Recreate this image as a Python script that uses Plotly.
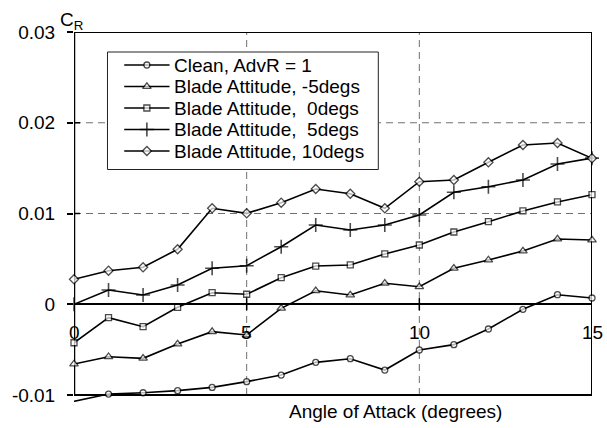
import plotly.graph_objects as go

# ---------------- data ----------------
aoa = list(range(16))
clean = [-0.0107, -0.0099, -0.00975, -0.00952, -0.00916, -0.00853, -0.0078, -0.0064,
         -0.0060, -0.00725, -0.00504, -0.00445, -0.00273, -0.00056, 0.00105, 0.00069]
blade_m5 = [-0.00658, -0.00578, -0.00596, -0.00438, -0.00302, -0.00339, -0.00045, 0.00149,
            0.00102, 0.00231, 0.00193, 0.00396, 0.00488, 0.00587, 0.00719, 0.00708]
blade_0 = [-0.00424, -0.00148, -0.00247, -0.00034, 0.00127, 0.0011, 0.00293, 0.00421,
           0.00433, 0.00554, 0.00653, 0.00796, 0.0091, 0.01028, 0.01127, 0.01207]
blade_5 = [0.0, 0.00157, 0.00102, 0.00212, 0.00396, 0.00425, 0.00634, 0.00873,
           0.00818, 0.00873, 0.00983, 0.01234, 0.01295, 0.01369, 0.01545, 0.0161]
blade_10 = [0.00275, 0.0037, 0.00407, 0.00606, 0.01057, 0.01002, 0.01119, 0.0127,
            0.01218, 0.01057, 0.0135, 0.01369, 0.01564, 0.01755, 0.01777, 0.01608]

series_names = ["Clean, AdvR = 1", "Blade Attitude, -5degs", "Blade Attitude,\u00a0 0degs",
                "Blade Attitude,\u00a0 5degs", "Blade Attitude, 10degs"]
x_ticks = [0, 5, 10, 15]
x_ticktext = ["0", "5", "10", "15"]
y_ticks = [-0.01, 0, 0.01, 0.02, 0.03]
y_ticktext = ["-0.01", "0", "0.01", "0.02", "0.03"]
x_grid = [5, 10]
y_grid = [0.01, 0.02]
x_title = "Angle of Attack (degrees)"
y_title = "C<sub>R</sub>"

# ---------------- layout geometry ----------------
W, H = 607, 428
L, R, T, B = 66, 592, 32, 402          # plot area in page pixels
Y_LO, Y_HI = -0.01, 0.03                 # frame range
FRAME_PX = 363                            # px between Y_HI and Y_LO
y_min = Y_HI - (B - T) * (Y_HI - Y_LO) / FRAME_PX
FONT = "Liberation Sans, Arial, sans-serif"

def px(xp):
    return (xp - L) / (R - L)

def py(yp):
    return (B - yp) / (B - T)

series = [clean, blade_m5, blade_0, blade_5, blade_10]
styles = [
    dict(symbol="circle", size=6, lw=1.3),
    dict(symbol="triangle-up", size=7.5, lw=1.3),
    dict(symbol="square", size=6, lw=1.3),
    dict(symbol="cross-thin", size=10, lw=1.6),
    dict(symbol="diamond", size=7, lw=1.3),
]

fig = go.Figure()

for vals, st in zip(series, styles):
    sizes = [st["size"] if v >= Y_LO else 0 for v in vals]
    fig.add_trace(go.Scatter(
        x=aoa, y=vals, mode="lines+markers", showlegend=False, cliponaxis=False,
        line=dict(color="black", width=1.6),
        marker=dict(symbol=st["symbol"], size=sizes, color="white",
                    line=dict(color="black", width=st["lw"])),
        hoverinfo="skip",
    ))

# legend samples (pixel-unit overlay axes)
row_y = [65, 86.5, 108, 129.5, 151]
for name, st, ry in zip(series_names, styles, row_y):
    fig.add_trace(go.Scatter(
        x=[117, 140, 163], y=[ry, ry, ry], xaxis="x2", yaxis="y2",
        mode="lines+markers", showlegend=False, cliponaxis=False,
        line=dict(color="black", width=1.6),
        marker=dict(symbol=st["symbol"], size=[0, st["size"], 0], color="white",
                    line=dict(color="black", width=st["lw"])),
        hoverinfo="skip",
    ))

shapes = []
grid_style = dict(color="#707070", width=1, dash="7px,5px")
for gx in x_grid:
    shapes.append(dict(type="line", xref="x", yref="y", x0=gx, x1=gx, y0=Y_LO, y1=Y_HI,
                       line=grid_style, layer="below"))
for gy in y_grid:
    shapes.append(dict(type="line", xref="x", yref="y", x0=0, x1=15, y0=gy, y1=gy,
                       line=grid_style, layer="below"))
# legend box
shapes.append(dict(type="rect", xref="x2", yref="y2", x0=100, x1=375, y0=52, y1=169.5,
                   fillcolor="white", line=dict(color="#222222", width=1), layer="below"))
# frame
shapes += [
    dict(type="line", xref="x", yref="y", x0=0, x1=15, y0=Y_HI, y1=Y_HI,
         line=dict(color="black", width=2), layer="below"),
    dict(type="line", xref="x", yref="y", x0=0, x1=15, y0=Y_LO, y1=Y_LO,
         line=dict(color="black", width=2), layer="below"),
    dict(type="line", xref="x", yref="y", x0=15, x1=15, y0=Y_LO, y1=Y_HI,
         line=dict(color="black", width=2), layer="below"),
    dict(type="line", xref="x", yref="y", x0=0, x1=0, y0=Y_LO, y1=Y_HI,
         line=dict(color="black", width=2.5), layer="below"),
]
# tick marks crossing axes
for v in y_ticks:
    shapes.append(dict(type="line", xref="x", yref="y", xsizemode="pixel", xanchor=0,
                       x0=-6, x1=6, y0=v, y1=v, line=dict(color="black", width=1.5), layer="below"))
for v in x_ticks:
    shapes.append(dict(type="line", xref="x", yref="y", ysizemode="pixel", yanchor=0,
                       y0=-6, y1=6, x0=v, x1=v, line=dict(color="black", width=1.5), layer="below"))

annotations = []
for v, t in zip(x_ticks, x_ticktext):
    annotations.append(dict(x=v, y=0, xref="x", yref="y", text=t, showarrow=False,
                            xanchor="center", yanchor="middle", yshift=-28,
                            font=dict(size=19, color="black", family=FONT)))
for name, ry in zip(series_names, row_y):
    annotations.append(dict(x=px(166), y=py(ry), xref="paper", yref="paper", text=name,
                            showarrow=False, xanchor="left", yanchor="middle",
                            font=dict(size=19, color="black", family=FONT)))
annotations.append(dict(x=px(63), y=py(21), xref="paper", yref="paper", text=y_title,
                        showarrow=False, xanchor="center", yanchor="middle",
                        font=dict(size=19, color="black", family=FONT)))
annotations.append(dict(x=px(392), y=py(411), xref="paper", yref="paper", text=x_title,
                        showarrow=False, xanchor="center", yanchor="middle",
                        font=dict(size=19, color="black", family=FONT)))

fig.update_layout(
    width=W, height=H,
    margin=dict(l=L, r=W - R, t=T, b=H - B, pad=0),
    paper_bgcolor="white", plot_bgcolor="white",
    showlegend=False,
    font=dict(family=FONT, size=19, color="black"),
    xaxis=dict(range=[0, 15], showgrid=False, zeroline=False, showline=False,
               showticklabels=False, ticks=""),
    yaxis=dict(range=[y_min, Y_HI], showgrid=False, zeroline=True, zerolinecolor="black",
               zerolinewidth=1.5, showline=False, tickvals=y_ticks, ticktext=y_ticktext,
               ticks="outside", ticklen=6, tickwidth=1.5, tickcolor="black",
               ticklabelstandoff=8, tickfont=dict(size=19, family=FONT, color="black")),
    xaxis2=dict(overlaying="x", anchor="y2", range=[L, R], visible=False),
    yaxis2=dict(overlaying="y", anchor="x2", range=[B, T], visible=False),
    shapes=shapes,
    annotations=annotations,
)

fig.write_html("out.html")
